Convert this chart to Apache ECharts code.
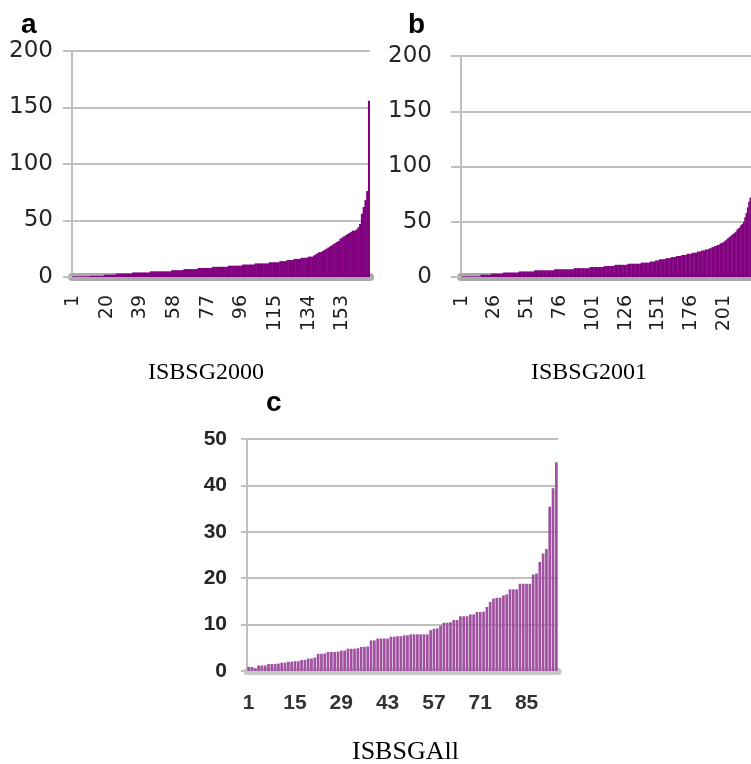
<html>
<head>
    <title></title>
    <meta charset="utf-8">
    <script src="https://cdn.jsdelivr.net/npm/echarts@6/dist/echarts.min.js" type="text/javascript"></script>
</head>
<body style="margin:0; background:#fff">
    <div id="main" style="width: 751px; height: 764px">
    </div>
    <script>
        // ISBSG2000, sorted values (168 projects)
        var isbsg2000 = [
            0.5, 0.5, 0.5, 0.5, 0.5, 0.5, 0.5, 0.5, 0.5, 0.5, 1, 1, 1, 1, 1, 1, 1, 1,
            2, 2, 2, 2, 2, 2, 2, 3, 3, 3, 3, 3, 3, 3, 3, 3,
            4, 4, 4, 4, 4, 4, 4, 4, 4, 4, 5, 5, 5, 5, 5, 5, 5, 5, 5, 5,
            5, 5, 6, 6, 6, 6, 6, 6, 6, 7, 7, 7, 7, 7, 7,
            7, 7, 8, 8, 8, 8, 8, 8, 8, 8, 9, 9, 9, 9, 9, 9, 9, 9, 9,
            10, 10, 10, 10, 10, 10, 10, 10, 11, 11, 11, 11, 11,
            11, 11, 12, 12, 12, 12, 12, 12, 12, 12,
            13, 13, 13, 13, 13, 13, 14, 14, 14,
            14, 15, 15, 15, 15, 16, 16, 16, 16,
            17, 17, 17, 17, 18, 18,
            18, 19, 20, 21, 22, 22,
            23, 24, 25, 26, 27, 28, 29,
            30, 31, 32, 34, 35, 36, 37, 38,
            39, 40, 41, 41, 42, 44,
            47, 56, 62, 68, 76, 156
        ];
        // ISBSG2001, sorted values (only the part visible in the figure)
        var isbsg2001 = [
            0.5, 0.5, 0.5, 0.5, 0.5, 0.5, 0.5, 0.5, 0.5, 0.5, 0.5, 0.5, 0.5, 0.5, 0.5,
            2, 2, 2, 2, 2, 2, 2, 2, 3, 3, 3, 3, 3, 3, 3, 3, 3,
            4, 4, 4, 4, 4, 4, 4, 4, 4, 4, 4, 4, 5, 5, 5, 5, 5, 5, 5, 5, 5, 5, 5, 5,
            6, 6, 6, 6, 6, 6, 6, 6, 6, 6,
            6, 6, 6, 6, 6, 7, 7, 7, 7, 7, 7, 7, 7, 7, 7, 7, 7, 7, 7, 7,
            8, 8, 8, 8, 8, 8, 8, 8, 8, 8, 8, 8, 9, 9, 9, 9, 9, 9,
            9, 9, 9, 9, 9, 10, 10, 10, 10, 10, 10, 10, 10, 11, 11, 11, 11, 11, 11,
            11, 11, 11, 11, 12, 12, 12, 12, 12, 12, 12, 12, 12, 12, 13, 13, 13, 13, 13,
            13, 13, 14, 14, 14, 14, 15, 15, 15, 16, 16, 16,
            16, 16, 17, 17, 17, 17, 18, 18, 18, 18, 19, 19, 19,
            19, 20, 20, 20, 20, 21, 21, 21, 21, 22, 22, 22, 22,
            23, 23, 23, 24, 24, 24, 25, 25, 25, 26, 26, 27,
            27, 28, 28, 29, 29, 30, 31, 31, 32, 33,
            34, 35, 36, 37, 38, 39, 40, 41,
            43, 44, 45, 47, 48, 50,
            54, 58, 63, 68, 72
        ];
        // ISBSGAll, sorted values (94 projects)
        var isbsgAll = [
            0.9, 0.9, 0.6, 1.2, 1.2, 1.2, 1.5, 1.5, 1.5, 1.6,
            1.8, 1.8, 2, 2, 2.1, 2.1, 2.4, 2.4, 2.7, 2.7,
            2.9, 3.7, 3.7, 3.8, 4.1, 4.1, 4.1, 4.2, 4.4, 4.4,
            4.8, 4.8, 4.8, 4.9, 5.2, 5.2, 5.3, 6.6, 6.6, 7,
            7, 7, 7, 7.4, 7.4, 7.5, 7.5, 7.7, 7.7, 7.9,
            7.9, 7.9, 7.9, 7.9, 7.9, 8.8, 9.1, 9.2, 9.8, 10.4,
            10.4, 10.5, 11, 11, 11.8, 11.8, 11.8, 12.2, 12.2, 12.7,
            12.7, 12.8, 13.8, 14.9, 15.6, 15.8, 15.8, 16.3, 16.5, 17.6,
            17.6, 17.6, 18.8, 18.8, 18.8, 18.8, 20.8, 21, 23.5, 25.3,
            26.3, 35.4, 39.4, 45
        ];
        var panelLetters = ['a', 'b', 'c'];
        var captions = ['ISBSG2000', 'ISBSG2001', 'ISBSGAll'];

        function cats(n) {
            var c = [];
            for (var i = 1; i <= n; i++) c.push('' + i);
            return c;
        }

        var gridColor = '#c0c0c0';
        var letterStyle = { fontFamily: 'Liberation Sans', fontWeight: 'bold', fontSize: 28, color: '#000' };
        var captionStyle = { fontFamily: 'Liberation Serif', fontWeight: 'normal', fontSize: 24, color: '#000' };
        var captionStyleC = { fontFamily: 'Liberation Serif', fontWeight: 'normal', fontSize: 26, color: '#000' };

        function yAxisFor(grid, max, interval, labelStyle, margin, tickLen) {
            return {
                type: 'value', gridIndex: grid, min: 0, max: max, interval: interval,
                axisLine: { show: true, lineStyle: { color: gridColor, width: 2 } },
                axisTick: { show: true, length: tickLen, lineStyle: { color: gridColor, width: 2 } },
                splitLine: { lineStyle: { color: gridColor, width: 2 } },
                axisLabel: Object.assign({ margin: margin, color: '#262626' }, labelStyle)
            };
        }

        window.onload = function () {
            var myChart = echarts.init(document.getElementById('main'));
            var option = {
                animation: false,
                backgroundColor: '#fff',
                title: [
                    { text: panelLetters[0], left: 16, top: 6, textStyle: letterStyle },
                    { text: panelLetters[1], left: 403, top: 6, textStyle: letterStyle },
                    { text: panelLetters[2], left: 261, top: 384, textStyle: letterStyle },
                    { text: captions[0], left: 143, top: 356, textStyle: captionStyle },
                    { text: captions[1], left: 526, top: 356, textStyle: captionStyle },
                    { text: captions[2], left: 347, top: 734, textStyle: captionStyleC }
                ],
                grid: [
                    { left: 72, width: 298, top: 51, height: 226 },
                    { left: 461, right: 0, top: 56, height: 221 },
                    { left: 247, width: 311, top: 439, height: 232 }
                ],
                xAxis: [
                    {
                        type: 'category', gridIndex: 0, data: cats(isbsg2000.length), offset: 4,
                        axisLine: { lineStyle: { color: '#a9a9a9', width: 8 } },
                        axisTick: { show: false },
                        axisLabel: { interval: 18, rotate: 90, margin: 14, fontFamily: 'DejaVu Sans', fontSize: 19, color: '#1f1f1f' }
                    },
                    {
                        type: 'category', gridIndex: 1, data: cats(isbsg2001.length), offset: 4,
                        axisLine: { lineStyle: { color: '#a9a9a9', width: 8 } },
                        axisTick: { show: false },
                        axisLabel: { interval: 24, rotate: 90, margin: 14, fontFamily: 'DejaVu Sans', fontSize: 19, color: '#1f1f1f' }
                    },
                    {
                        type: 'category', gridIndex: 2, data: cats(isbsgAll.length), offset: 3,
                        axisLine: { lineStyle: { color: '#c8c8c8', width: 7 } },
                        axisTick: { show: false },
                        axisLabel: { interval: 13, margin: 19, fontFamily: 'Liberation Sans', fontWeight: 'bold', fontSize: 21, color: '#333' }
                    }
                ],
                yAxis: [
                    yAxisFor(0, 200, 50, { fontFamily: 'DejaVu Sans', fontSize: 23 }, 19, 9),
                    yAxisFor(1, 200, 50, { fontFamily: 'DejaVu Sans', fontSize: 23 }, 29, 10),
                    yAxisFor(2, 50, 10, { fontFamily: 'Liberation Sans', fontWeight: 'bold', fontSize: 21 }, 20, 6)
                ],
                series: [
                    {
                        type: 'bar', xAxisIndex: 0, yAxisIndex: 0, data: isbsg2000,
                        barWidth: '130%', itemStyle: { color: '#800080' }
                    },
                    {
                        type: 'bar', xAxisIndex: 1, yAxisIndex: 1, data: isbsg2001,
                        barWidth: '130%', itemStyle: { color: '#800080' }
                    },
                    {
                        type: 'bar', xAxisIndex: 2, yAxisIndex: 2, data: isbsgAll,
                        barCategoryGap: '18%', itemStyle: { color: '#a052a0' }
                    }
                ]
            };
            myChart.setOption(option);
        }
    </script>
</body>
</html>
